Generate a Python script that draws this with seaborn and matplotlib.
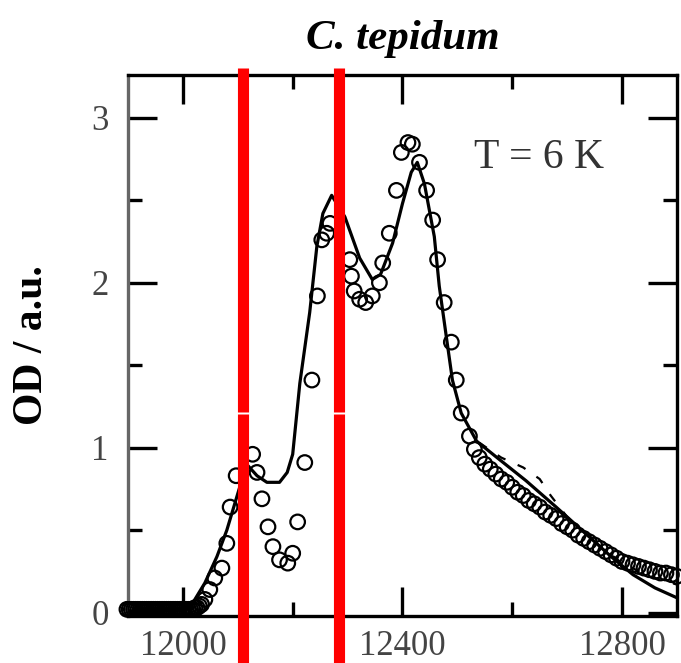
import matplotlib
matplotlib.use('Agg')

import matplotlib.pyplot as plt
from matplotlib.ticker import MultipleLocator
import seaborn as sns
import pandas as pd

# measured spectrum (open circles)
meas_x = [11898, 11902, 11906, 11910, 11914, 11918, 11922, 11926, 11930, 11934,
          11938, 11942, 11946, 11950, 11954, 11958, 11962, 11966, 11970, 11974,
          11978, 11982, 11986, 11990, 11994, 11998, 12002, 12006, 12010, 12014,
          12018, 12022, 12026, 12030, 12034,
          12040, 12049, 12058, 12071, 12080, 12086, 12097, 12127, 12135, 12144,
          12155, 12164, 12176, 12191, 12200, 12209, 12222, 12235, 12245, 12253,
          12262, 12268, 12304, 12307, 12312, 12322, 12333, 12345, 12358, 12364,
          12376, 12389, 12398, 12410, 12418, 12431, 12444, 12455, 12464, 12476,
          12489, 12498, 12507, 12522, 12531, 12540, 12550, 12560, 12570, 12580,
          12590, 12600, 12610, 12620, 12630, 12640, 12650, 12660, 12670, 12680,
          12690, 12700, 12710, 12720, 12730, 12740, 12750, 12760, 12770, 12780,
          12790, 12800, 12810, 12820, 12830, 12840, 12850, 12860, 12870, 12880,
          12890, 12900]
meas_y = [0.02, 0.02, 0.02, 0.02, 0.02, 0.02, 0.02, 0.02, 0.02, 0.02,
          0.02, 0.02, 0.02, 0.02, 0.02, 0.02, 0.02, 0.02, 0.02, 0.02,
          0.02, 0.02, 0.02, 0.02, 0.02, 0.02, 0.02, 0.02, 0.02, 0.02,
          0.02, 0.03, 0.03, 0.04, 0.05,
          0.08, 0.14, 0.21, 0.27, 0.42, 0.64, 0.83, 0.96, 0.85, 0.69,
          0.52, 0.40, 0.32, 0.30, 0.36, 0.55, 0.91, 1.41, 1.92, 2.26,
          2.30, 2.36, 2.14, 2.04, 1.95, 1.90, 1.88, 1.92, 2.00, 2.12,
          2.30, 2.56, 2.79, 2.85, 2.84, 2.73, 2.56, 2.38, 2.14, 1.88,
          1.64, 1.41, 1.21, 1.07, 0.99, 0.94, 0.90, 0.87, 0.84, 0.81,
          0.79, 0.76, 0.73, 0.71, 0.68, 0.66, 0.64, 0.61, 0.59, 0.57,
          0.54, 0.52, 0.50, 0.47, 0.45, 0.43, 0.41, 0.39, 0.37, 0.35,
          0.33, 0.31, 0.30, 0.29, 0.28, 0.27, 0.26, 0.25, 0.24, 0.24,
          0.23, 0.22]

# calculated spectrum (solid line)
fit_x = [11900, 11950, 12000, 12020, 12040, 12062, 12080, 12098, 12116, 12135,
         12153, 12176, 12190, 12200, 12213, 12231, 12244, 12255, 12271, 12295,
         12322, 12345, 12360, 12382, 12400, 12416, 12427, 12440, 12458, 12467,
         12480, 12491, 12507, 12535, 12576, 12625, 12680, 12740, 12780, 12820,
         12860, 12900]
fit_y = [0.01, 0.01, 0.02, 0.07, 0.18, 0.34, 0.50, 0.70, 0.90, 0.83,
         0.79, 0.79, 0.85, 0.96, 1.39, 1.82, 2.22, 2.42, 2.53, 2.40,
         2.15, 2.02, 2.05, 2.24, 2.48, 2.67, 2.73, 2.60, 2.28, 1.98,
         1.67, 1.41, 1.21, 1.04, 0.93, 0.80, 0.64, 0.46, 0.34, 0.23,
         0.15, 0.09]

# second calculation (dashed), only where it departs from the solid one
alt_x = [12540, 12580, 12620, 12650, 12670, 12700, 12750, 12800, 12850, 12900]
alt_y = [1.03, 0.94, 0.88, 0.81, 0.71, 0.58, 0.43, 0.30, 0.22, 0.17]

marks_x = [12110, 12285]

meas = pd.DataFrame({'x': meas_x, 'y': meas_y})
fit = pd.DataFrame({'x': fit_x, 'y': fit_y})
alt = pd.DataFrame({'x': alt_x, 'y': alt_y})

sns.set_style('ticks')
plt.rcParams['font.family'] = ['Liberation Serif', 'DejaVu Serif']

fig = plt.figure(figsize=(6.81, 6.63), dpi=100)
ax = fig.add_axes([0.188, 0.071, 0.806, 0.816])

sns.lineplot(data=fit, x='x', y='y', ax=ax, color='black', lw=2.3, sort=False, zorder=3)
sns.lineplot(data=alt, x='x', y='y', ax=ax, color='black', lw=1.6, sort=False,
             linestyle=(0, (4, 6)), zorder=3)
sns.scatterplot(data=meas, x='x', y='y', ax=ax, marker='o', s=110,
                facecolors='none', edgecolor='black', linewidth=1.6,
                clip_on=False, zorder=4)

for xv in marks_x:
    ax.axvline(xv, ymin=-0.09, ymax=0.373, color='red', lw=8,
               solid_capstyle='butt', clip_on=False, zorder=10)
    ax.axvline(xv, ymin=0.377, ymax=1.013, color='red', lw=8,
               solid_capstyle='butt', clip_on=False, zorder=10)

ax.set_xlim(11900, 12900)
ax.set_ylim(-0.02, 3.26)
ax.xaxis.set_major_locator(MultipleLocator(400))
ax.xaxis.set_minor_locator(MultipleLocator(200))
ax.yaxis.set_major_locator(MultipleLocator(1))
ax.yaxis.set_minor_locator(MultipleLocator(0.5))
ax.tick_params(which='both', direction='in', top=True, right=True,
               width=2.4, colors='black', labelcolor='#444444', labelsize=25)
ax.tick_params(which='major', length=21)
ax.tick_params(which='minor', length=10)
ax.tick_params(axis='x', pad=10)
ax.tick_params(axis='y', pad=14)

for side in ['top', 'right', 'bottom']:
    ax.spines[side].set_linewidth(2.4)
    ax.spines[side].set_color('black')
ax.spines['left'].set_linewidth(2.4)
ax.spines['left'].set_color('#666666')

ax.set_xlabel('')
ax.set_ylabel('OD / a.u.', fontsize=30, fontweight='bold', color='black')
ax.yaxis.set_label_coords(-0.14, 0.5)
ax.set_title('C. tepidum', fontsize=31, fontweight='bold', style='italic',
             color='black', pad=19)

ax.text(12531, 2.76, 'T = 6 K', fontsize=30, color='#333333', va='center', ha='left')

fig.savefig('out.png', dpi=100)
